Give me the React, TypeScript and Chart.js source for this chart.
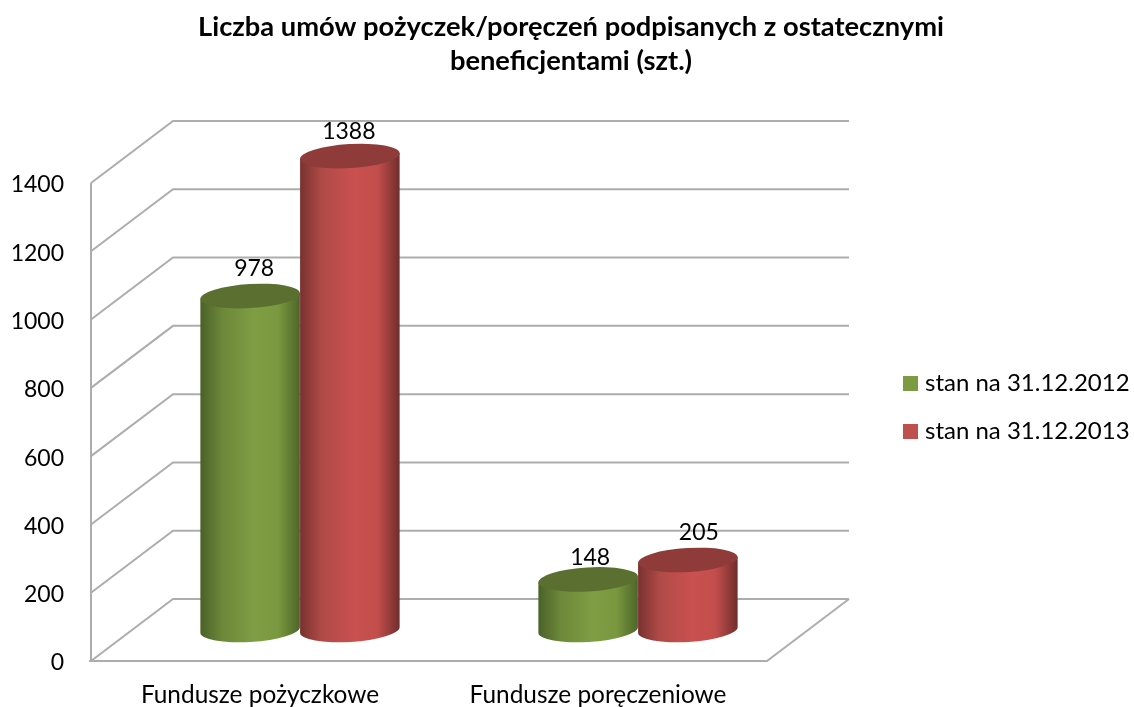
import React, { useEffect, useRef } from "react";
import { Chart, registerables } from "chart.js";

Chart.register(...registerables);

const categories = ["Fundusze pożyczkowe", "Fundusze poręczeniowe"];
const series2012 = [978, 148];
const series2013 = [1388, 205];
const seriesNames = ["stan na 31.12.2012", "stan na 31.12.2013"];
const titleLines = ["Liczba umów pożyczek/poręczeń podpisanych z ostatecznymi", "beneficjentami (szt.)"];

const FONT = "Lato, Carlito, Calibri, sans-serif";
const DEPTH_X = 82;
const DEPTH_Y = -62;
const LINE = "#adadad";

const looks = [
  { solid: "#7d9b43", cap: "#5b7030", stops: ["#4a6128", "#6c8839", "#7f9e44", "#7a983f", "#4d6629"] },
  { solid: "#c0504d", cap: "#8e3b39", stops: ["#78322f", "#b04a47", "#c9514f", "#c24e4c", "#6f2e2c"] },
];
const labelNudge = [
  [[4, -28], [-1, -25]],
  [[2, -22], [11, -27]],
];

function drawWalls(chart: any) {
  const { ctx, chartArea: a, scales } = chart;
  const y = scales.y;
  ctx.save();
  ctx.strokeStyle = LINE;
  ctx.lineWidth = 2;
  ctx.lineCap = "butt";
  const stroke = (pts: number[][]) => {
    ctx.beginPath();
    pts.forEach((p, i) => (i ? ctx.lineTo(p[0], p[1]) : ctx.moveTo(p[0], p[1])));
    ctx.stroke();
  };
  y.ticks.forEach((t: any) => {
    const py = y.getPixelForValue(t.value);
    stroke([
      [a.left, py],
      [a.left + DEPTH_X, py + DEPTH_Y],
      [a.right + DEPTH_X, py + DEPTH_Y],
    ]);
  });
  stroke([[a.left - 2, y.getPixelForValue(0)], [a.right, y.getPixelForValue(0)], [a.right + DEPTH_X, y.getPixelForValue(0) + DEPTH_Y]]);
  stroke([[a.left, y.getPixelForValue(1400)], [a.left, y.getPixelForValue(0)]]);
  ctx.restore();
}

function drawCylinders(chart: any) {
  const { ctx } = chart;
  const dx = 40;
  const dy = DEPTH_Y / 2;
  const tilt = -0.06;
  const ry = 12;
  chart.data.datasets.forEach((ds: any, di: number) => {
    const look = looks[di];
    chart.getDatasetMeta(di).data.forEach((bar: any, i: number) => {
      const p = bar.getProps(["x", "y", "base", "width"], true);
      const cx = p.x + dx;
      const top = p.y + dy;
      const bottom = p.base + dy;
      const rx = p.width / 2;
      const ex = rx * Math.cos(tilt);
      const ey = rx * Math.sin(tilt);
      const g = ctx.createLinearGradient(cx - rx, 0, cx + rx, 0);
      look.stops.forEach((c: string, k: number) => g.addColorStop([0, 0.22, 0.55, 0.78, 1][k], c));
      ctx.save();
      ctx.fillStyle = g;
      ctx.beginPath();
      ctx.moveTo(cx - ex, top - ey);
      ctx.lineTo(cx + ex, top + ey);
      ctx.lineTo(cx + ex, bottom + ey);
      ctx.ellipse(cx, bottom, rx, ry, tilt, 0, Math.PI);
      ctx.closePath();
      ctx.fill();
      ctx.fillStyle = look.cap;
      ctx.beginPath();
      ctx.ellipse(cx, top, rx, ry, tilt, 0, Math.PI * 2);
      ctx.fill();
      ctx.restore();
    });
  });
  ctx.save();
  ctx.fillStyle = "#000";
  ctx.font = "23px " + FONT;
  ctx.textAlign = "center";
  ctx.textBaseline = "middle";
  chart.data.datasets.forEach((ds: any, di: number) => {
    chart.getDatasetMeta(di).data.forEach((bar: any, i: number) => {
      const n = labelNudge[i][di];
      ctx.fillText(String(ds.data[i]), bar.x + dx + n[0], bar.y + dy + n[1]);
    });
  });
  ctx.restore();
}

function drawLegend(chart: any) {
  const { ctx } = chart;
  ctx.save();
  ctx.font = "24px " + FONT;
  ctx.textAlign = "left";
  ctx.textBaseline = "middle";
  chart.data.datasets.forEach((ds: any, di: number) => {
    const cy = 383.5 + di * 48;
    ctx.fillStyle = ds.backgroundColor;
    ctx.fillRect(903, cy - 7.5, 15, 15);
    ctx.fillStyle = "#000";
    ctx.fillText(ds.label, 925, cy);
  });
  ctx.restore();
}

const cylinderPlugin = {
  id: "cylinders",
  beforeDatasetsDraw(chart: any) {
    drawWalls(chart);
    drawCylinders(chart);
    drawLegend(chart);
    return false;
  },
};

export default function App() {
  const ref = useRef<HTMLCanvasElement>(null);
  useEffect(() => {
    const chart = new Chart(ref.current as HTMLCanvasElement, {
      type: "bar",
      data: {
        labels: categories,
        datasets: [
          { label: seriesNames[0], data: series2012, backgroundColor: looks[0].solid },
          { label: seriesNames[1], data: series2013, backgroundColor: looks[1].solid },
        ],
      },
      plugins: [cylinderPlugin],
      options: {
        animation: false,
        responsive: false,
        layout: { padding: { left: 8, right: 0, top: 0, bottom: 0 } },
        datasets: { bar: { barPercentage: 1, categoryPercentage: 0.59 } },
        plugins: {
          legend: { display: false },
          tooltip: { enabled: false },
          title: {
            display: true,
            text: titleLines,
            color: "#000",
            font: { family: FONT, size: 27.3, weight: "bold", lineHeight: 34 / 27.3 },
            padding: { top: 10, bottom: 105 },
          },
        },
        scales: {
          x: {
            grid: { display: false },
            border: { display: false },
            ticks: { color: "#000", font: { family: FONT, size: 24.4 }, padding: 12, maxRotation: 0, autoSkip: false },
            afterFit: (s: any) => { s.height = 46; },
          },
          y: {
            min: 0,
            max: 1400,
            grid: { display: false },
            border: { display: false },
            ticks: {
              stepSize: 200,
              color: "#000",
              font: { family: FONT, size: 23 },
              padding: 19,
              labelOffset: 2,
              callback: (v: any) => String(v),
            },
            afterFit: (s: any) => { s.width = 83; },
          },
          y1: {
            position: "right",
            grid: { display: false },
            border: { display: false },
            ticks: { display: false },
            afterFit: (s: any) => { s.width = 367; },
          },
        },
      },
    } as any);
    return () => chart.destroy();
  }, []);
  return (
    <div style={{ position: "fixed", left: 0, top: 0, width: 1134, height: 707 }}>
      <canvas ref={ref} width={1134} height={707} style={{ display: "block" }} />
    </div>
  );
}
